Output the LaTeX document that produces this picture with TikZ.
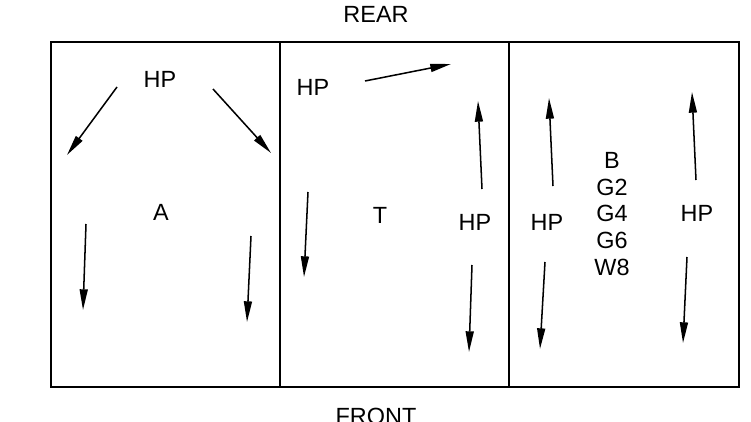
\documentclass[tikz,border=0pt]{standalone}
\usepackage{fontspec}
\setmainfont{Liberation Sans}
\usetikzlibrary{arrows.meta}

\begin{document}
\begin{tikzpicture}[
  x=0.03cm, y=-0.03cm,
  bay/.style={draw, line width=2.5pt},
  lbl/.style={inner sep=0pt, font=\fontsize{20}{23}\selectfont},
  stack/.style={lbl, align=center},
  arr/.style={-{Triangle[length=0.62cm,width=0.24cm]}, line width=1.3pt},
]
\useasboundingbox (0,0) rectangle (751,422);

% ─── Outline of the three bays ───
\draw[bay] (51,42) rectangle (739,387);
\draw[bay] (280,42) -- (280,387);
\draw[bay] (509,42) -- (509,387);

% ─── Sides ───
\node[lbl] (rear)  at (376,14)  {REAR};
\node[lbl] (front) at (376,416) {FRONT};

% ─── Bay A ───
\node[lbl] (hpA) at (160,79)  {HP};
\node[lbl] (bayA) at (161,212) {A};
\draw[arr] (117,87)  -- (67,155);
\draw[arr] (213,89)  -- (271,153);
\draw[arr] (86,224)  -- (83,310);
\draw[arr] (251,236) -- (247,322);

% ─── Bay T ───
\node[lbl] (hpT)  at (313,87)  {HP};
\node[lbl] (bayT) at (380,215) {T};
\node[lbl] (hpT2) at (475,222) {HP};
\draw[arr] (365,81)  -- (451,64);
\draw[arr] (482,189) -- (478,101);
\draw[arr] (308,192) -- (304,277);
\draw[arr] (472,265) -- (469,352);

% ─── Bay B ───
\node[lbl] (hpB)  at (547,222) {HP};
\node[stack] (bayB) at (612,214) {B\\G2\\G4\\G6\\W8};
\node[lbl] (hpB2) at (697,213) {HP};
\draw[arr] (553,186) -- (549,98);
\draw[arr] (545,262) -- (540,349);
\draw[arr] (696,180) -- (692,92);
\draw[arr] (687,257) -- (683,343);

\end{tikzpicture}
\end{document}
